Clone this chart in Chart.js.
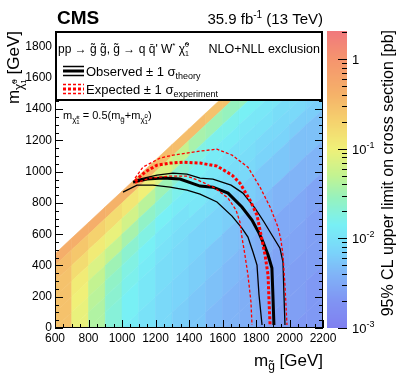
<!DOCTYPE html>
<html>
<head>
<meta charset="utf-8">
<script src="https://cdn.jsdelivr.net/npm/chart.js@4.4.0/dist/chart.umd.min.js"></script>
<style>
  html, body { margin: 0; padding: 0; background: #fff; }
</style>
</head>
<body>
<canvas id="limitChart" width="399" height="383"></canvas>
<script>
const FONT = '"Liberation Sans", Arial, Helvetica, sans-serif';

// limit map binning: gluino mass columns and mass-splitting bands (GeV)
const gluinoEdges = [600, 700, 800, 900, 1000, 1100, 1200, 1300, 1400, 1500, 1600, 1700, 1800, 1900, 2000, 2100, 2200];
const deltaEdges = [125, 200, 300, 400, 500, 600, 700, 800, 1000, 1200, 1400, 1600, 1800, 2000, 2200];

// log10 of the 95% CL upper limit [pb], rows = deltaM bands, columns = gluino bins
const limitLog10 = [
  [-0.35, -0.35, -0.35, -0.4, -0.4, -0.45, -0.5, -0.5, -0.5, -0.55, -0.55, -0.55, -0.6, -0.6, -0.6, -0.6],
  [-0.5, -0.6, -0.7, -0.8, -0.9, -1.0, -1.15, -1.3, -1.45, -1.5, -1.55, -1.55, -1.6, -1.6, -1.65, -1.65],
  [-0.55, -0.8, -0.95, -1.05, -1.2, -1.35, -1.5, -1.65, -1.75, -1.8, -1.8, -1.85, -1.85, -1.9, -1.9, -1.9],
  [-0.55, -0.95, -1.15, -1.3, -1.45, -1.6, -1.7, -1.8, -1.85, -1.9, -1.9, -1.95, -1.95, -1.95, -2.0, -2.0],
  [-0.55, -1.0, -1.3, -1.5, -1.65, -1.75, -1.85, -1.9, -1.9, -1.95, -2.0, -2.0, -2.0, -2.05, -2.05, -2.05],
  [-0.55, -1.05, -1.35, -1.6, -1.75, -1.85, -1.95, -2.0, -1.95, -2.0, -2.05, -2.05, -2.1, -2.1, -2.1, -2.15],
  [null, -1.05, -1.4, -1.65, -1.8, -1.9, -2.0, -2.05, -2.05, -2.05, -2.1, -2.1, -2.15, -2.15, -2.2, -2.2],
  [null, null, -1.4, -1.7, -1.85, -1.95, -2.05, -2.1, -2.15, -2.15, -2.2, -2.2, -2.25, -2.25, -2.3, -2.3],
  [null, null, null, null, -1.9, -2.0, -2.1, -2.15, -2.2, -2.25, -2.3, -2.35, -2.35, -2.4, -2.4, -2.4],
  [null, null, null, null, null, null, -2.1, -2.2, -2.25, -2.3, -2.35, -2.4, -2.45, -2.5, -2.5, -2.55],
  [null, null, null, null, null, null, null, null, -2.25, -2.35, -2.4, -2.45, -2.5, -2.55, -2.55, -2.6],
  [null, null, null, null, null, null, null, null, null, null, -2.4, -2.45, -2.5, -2.55, -2.6, -2.6],
  [null, null, null, null, null, null, null, null, null, null, null, null, -2.55, -2.6, -2.6, -2.65],
  [null, null, null, null, null, null, null, null, null, null, null, null, null, null, -2.65, -2.65]
];

// exclusion contours (m_gluino, m_LSP) in GeV
const obsGluino = [1066, 1149, 1245, 1346, 1466, 1543, 1633, 1716, 1776, 1818, 1842, 1872, 1895, 1901, 1907];
const obsLsp = [933, 953, 959, 953, 908, 901, 863, 774, 690, 607, 550, 467, 384, 211, 19];
const obsUpGluino = [1078, 1209, 1304, 1388, 1466, 1543, 1651, 1722, 1794, 1848, 1895, 1943, 1961, 1967, 1973];
const obsUpLsp = [946, 978, 991, 985, 959, 953, 914, 863, 767, 678, 595, 511, 422, 211, 19];
const obsDownGluino = [1006, 1090, 1185, 1287, 1388, 1466, 1567, 1657, 1716, 1752, 1782, 1806, 1818, 1836];
const obsDownLsp = [869, 914, 914, 901, 882, 857, 806, 716, 639, 582, 486, 403, 211, 19];
const expGluino = [1078, 1137, 1209, 1287, 1364, 1466, 1567, 1657, 1704, 1764, 1806, 1830, 1854, 1872, 1878, 1884];
const expLsp = [940, 997, 1042, 1055, 1061, 1055, 1036, 978, 927, 818, 722, 595, 467, 339, 166, 19];
const expUpGluino = [1078, 1125, 1227, 1304, 1466, 1567, 1657, 1752, 1824, 1884, 1931, 1949, 1961, 1973, 1985];
const expUpLsp = [959, 1029, 1087, 1106, 1132, 1144, 1106, 1029, 901, 774, 646, 563, 467, 275, 19];
const expDownGluino = [1078, 1167, 1287, 1388, 1466, 1555, 1633, 1681, 1704, 1716, 1734, 1752, 1770, 1776];
const expDownLsp = [927, 959, 972, 972, 940, 895, 831, 754, 678, 582, 467, 339, 166, 19];

const zMin = 0.001;
const zMax = 2.05;
const zDecades = [0.001, 0.01, 0.1, 1];

// pastel rainbow palette (log10 value -> rgb)
const paletteStops = [
  [-3.0, [128, 128, 240]],
  [-2.7, [128, 148, 243]],
  [-2.4, [128, 180, 247]],
  [-2.15, [122, 212, 250]],
  [-1.85, [120, 240, 245]],
  [-1.55, [150, 242, 190]],
  [-1.3, [195, 243, 145]],
  [-1.0, [240, 240, 120]],
  [-0.7, [245, 210, 110]],
  [-0.4, [245, 178, 105]],
  [0.0, [245, 148, 110]],
  [0.32, [240, 120, 125]]
];

function paletteColor(v) {
  if (v <= paletteStops[0][0]) return 'rgb(' + paletteStops[0][1].join(',') + ')';
  for (let i = 1; i < paletteStops.length; i++) {
    if (v <= paletteStops[i][0]) {
      const [v0, c0] = paletteStops[i - 1];
      const [v1, c1] = paletteStops[i];
      const f = (v - v0) / (v1 - v0);
      const c = c0.map((a, k) => Math.round(a + (c1[k] - a) * f));
      return 'rgb(' + c.join(',') + ')';
    }
  }
  return 'rgb(' + paletteStops[paletteStops.length - 1][1].join(',') + ')';
}

function toPoints(xs, ys) {
  return xs.map((x, i) => ({ x: x, y: ys[i] }));
}

// text with sub/superscripts
function partWidth(ctx, p) {
  ctx.font = (p.bold ? 'bold ' : '') + p.s + 'px ' + FONT;
  if (p.t !== undefined) return ctx.measureText(p.t).width;
  return Math.max(ctx.measureText(p.sup).width, ctx.measureText(p.sub).width);
}

function drawRich(ctx, parts, x, y, align) {
  const total = parts.reduce((w, p) => w + partWidth(ctx, p), 0);
  let cx = align === 'right' ? x - total : (align === 'center' ? x - total / 2 : x);
  ctx.textAlign = 'left';
  ctx.textBaseline = 'alphabetic';
  parts.forEach(p => {
    const w = partWidth(ctx, p);
    if (p.t !== undefined) {
      ctx.fillText(p.t, cx, y + (p.dy || 0));
    } else {
      ctx.fillText(p.sup, cx, y + p.supDy);
      ctx.fillText(p.sub, cx, y + p.subDy);
    }
    cx += w;
  });
}

const limitMap = {
  id: 'limitMap',
  beforeDatasetsDraw(chart) {
    const { ctx, chartArea, scales: { x, y } } = chart;
    ctx.save();
    ctx.beginPath();
    ctx.rect(chartArea.left, chartArea.top, chartArea.width, chartArea.height);
    ctx.clip();
    for (let b = 0; b < limitLog10.length; b++) {
      for (let g = 0; g < limitLog10[b].length; g++) {
        const v = limitLog10[b][g];
        if (v === null) continue;
        const g0 = gluinoEdges[g], g1 = gluinoEdges[g + 1];
        const d0 = deltaEdges[b], d1 = deltaEdges[b + 1];
        const col = paletteColor(v);
        ctx.fillStyle = col;
        ctx.strokeStyle = col;
        ctx.lineWidth = 0.6;
        ctx.beginPath();
        ctx.moveTo(x.getPixelForValue(g0), y.getPixelForValue(g0 - d0));
        ctx.lineTo(x.getPixelForValue(g1), y.getPixelForValue(g1 - d0));
        ctx.lineTo(x.getPixelForValue(g1), y.getPixelForValue(g1 - d1));
        ctx.lineTo(x.getPixelForValue(g0), y.getPixelForValue(g0 - d1));
        ctx.closePath();
        ctx.fill();
        ctx.stroke();
      }
    }
    ctx.restore();
  }
};

const frameAndText = {
  id: 'frameAndText',
  afterDraw(chart) {
    const { ctx, chartArea: ca, scales: { x, y } } = chart;
    ctx.save();

    // axis ticks (ROOT style, inside the frame)
    ctx.strokeStyle = '#000';
    ctx.lineWidth = 1;
    ctx.beginPath();
    for (let m = 600; m <= 2200; m += 50) {
      const px = Math.round(x.getPixelForValue(m)) + 0.5;
      const len = m % 200 === 0 ? 8 : 4;
      ctx.moveTo(px, ca.bottom);
      ctx.lineTo(px, ca.bottom - len);
    }
    for (let m = 0; m <= 1900; m += 50) {
      const py = Math.round(y.getPixelForValue(m)) + 0.5;
      const len = m % 200 === 0 ? 8 : 4;
      ctx.moveTo(ca.left, py);
      ctx.lineTo(ca.left + len, py);
      ctx.moveTo(ca.right, py);
      ctx.lineTo(ca.right - len, py);
    }
    ctx.stroke();
    ctx.strokeRect(ca.left + 0.5, ca.top + 0.5, ca.width - 1, ca.height - 1);

    // legend box
    ctx.fillStyle = '#fff';
    ctx.fillRect(ca.left, ca.top, ca.width, 69);
    ctx.lineWidth = 2;
    ctx.strokeStyle = '#000';
    ctx.strokeRect(ca.left + 1, ca.top + 1, ca.width - 2, 68);

    ctx.fillStyle = '#000';
    drawRich(ctx, [
      { t: 'pp \u2192 g\u0303 g\u0303, g\u0303 \u2192 q q\u0304\' W', s: 12 },
      { t: '*', s: 8, dy: -5 },
      { t: ' \u03c7\u0303', s: 12 },
      { sup: '0', sub: '1', s: 7, supDy: -6, subDy: 3 }
    ], 58, 53, 'left');
    drawRich(ctx, [{ t: 'NLO+NLL exclusion', s: 12.5 }], 320, 53, 'right');

    // observed sample lines
    ctx.setLineDash([]);
    ctx.strokeStyle = '#000';
    ctx.lineWidth = 3;
    ctx.beginPath(); ctx.moveTo(63, 71); ctx.lineTo(84, 71); ctx.stroke();
    ctx.lineWidth = 1.3;
    ctx.beginPath(); ctx.moveTo(63, 66.5); ctx.lineTo(84, 66.5); ctx.moveTo(63, 75.5); ctx.lineTo(84, 75.5); ctx.stroke();
    // expected sample lines
    ctx.strokeStyle = '#ff0000';
    ctx.lineWidth = 3;
    ctx.setLineDash([3, 2]);
    ctx.beginPath(); ctx.moveTo(63, 89); ctx.lineTo(84, 89); ctx.stroke();
    ctx.lineWidth = 1.3;
    ctx.beginPath(); ctx.moveTo(63, 84.5); ctx.lineTo(84, 84.5); ctx.moveTo(63, 93.5); ctx.lineTo(84, 93.5); ctx.stroke();
    ctx.setLineDash([]);

    ctx.fillStyle = '#000';
    drawRich(ctx, [{ t: 'Observed \u00b1 1 \u03c3', s: 13 }, { t: 'theory', s: 9, dy: 3 }], 86, 76, 'left');
    drawRich(ctx, [{ t: 'Expected \u00b1 1 \u03c3', s: 13 }, { t: 'experiment', s: 9, dy: 3 }], 86, 94, 'left');

    // chargino mass note
    drawRich(ctx, [
      { t: 'm', s: 11 },
      { t: '\u03c7\u0303', s: 8, dy: 3 },
      { sup: '\u00b1', sub: '1', s: 6, supDy: 0, subDy: 5 },
      { t: ' = 0.5(m', s: 11 },
      { t: 'g\u0303', s: 8, dy: 3 },
      { t: '+m', s: 11 },
      { t: '\u03c7\u0303', s: 8, dy: 3 },
      { sup: '0', sub: '1', s: 6, supDy: -1, subDy: 5 },
      { t: ')', s: 11 }
    ], 63, 119, 'left');

    // header
    drawRich(ctx, [{ t: 'CMS', s: 19, bold: true }], 57, 24, 'left');
    drawRich(ctx, [{ t: '35.9 fb', s: 15 }, { t: '-1', s: 10, dy: -6 }, { t: ' (13 TeV)', s: 15 }], 323, 24, 'right');

    // axis titles
    drawRich(ctx, [{ t: 'm', s: 17 }, { t: 'g\u0303', s: 12, dy: 4 }, { t: ' [GeV]', s: 17 }], 323, 366, 'right');
    ctx.save();
    ctx.translate(19, 31);
    ctx.rotate(-Math.PI / 2);
    drawRich(ctx, [
      { t: 'm', s: 17 },
      { t: '\u03c7\u0303', s: 12, dy: 4 },
      { sup: '0', sub: '1', s: 8, supDy: -2, subDy: 7 },
      { t: ' [GeV]', s: 17 }
    ], 0, 0, 'right');
    ctx.restore();

    // colour bar
    const barL = 327, barR = 347, barT = ca.top, barB = ca.bottom;
    const lMin = Math.log10(zMin), lMax = Math.log10(zMax);
    const zPix = v => barB - (Math.log10(v) - lMin) / (lMax - lMin) * (barB - barT);
    for (let py = barT; py < barB; py++) {
      const lv = lMin + (barB - (py + 0.5)) / (barB - barT) * (lMax - lMin);
      ctx.fillStyle = paletteColor(lv);
      ctx.fillRect(barL, py, barR - barL, 1);
    }
    ctx.strokeStyle = '#000';
    ctx.lineWidth = 1;
    ctx.beginPath();
    zDecades.forEach(d => {
      for (let k = 1; k <= 9; k++) {
        const v = d * k;
        if (v > zMax) break;
        const py = Math.round(zPix(v)) + 0.5;
        ctx.moveTo(barR, py);
        ctx.lineTo(barR - (k === 1 ? 9 : 5), py);
      }
    });
    ctx.stroke();
    ctx.fillStyle = '#000';
    zDecades.forEach(d => {
      const py = zPix(d) + 5;
      if (d === 1) {
        drawRich(ctx, [{ t: '1', s: 13 }], 352, py, 'left');
      } else {
        drawRich(ctx, [{ t: '10', s: 13 }, { t: String(Math.round(Math.log10(d))), s: 9, dy: -6 }], 352, py, 'left');
      }
    });
    ctx.save();
    ctx.translate(393, 30);
    ctx.rotate(-Math.PI / 2);
    drawRich(ctx, [{ t: '95% CL upper limit on cross section [pb]', s: 16 }], 0, 0, 'right');
    ctx.restore();

    ctx.restore();
  }
};

function contour(data, color, width, dash) {
  return {
    data: data,
    showLine: true,
    borderColor: color,
    borderWidth: width,
    borderDash: dash,
    pointRadius: 0,
    tension: 0,
    fill: false
  };
}

new Chart(document.getElementById('limitChart').getContext('2d'), {
  type: 'scatter',
  data: {
    datasets: [
      contour(toPoints(expUpGluino, expUpLsp), '#ff0000', 1.3, [3, 2]),
      contour(toPoints(expDownGluino, expDownLsp), '#ff0000', 1.3, [3, 2]),
      contour(toPoints(expGluino, expLsp), '#ff0000', 3, [3, 2]),
      contour(toPoints(obsUpGluino, obsUpLsp), '#000000', 1.3, []),
      contour(toPoints(obsDownGluino, obsDownLsp), '#000000', 1.3, []),
      contour(toPoints(obsGluino, obsLsp), '#000000', 3, [])
    ]
  },
  options: {
    responsive: false,
    animation: false,
    devicePixelRatio: 1,
    events: [],
    layout: { padding: { left: 0, right: 76, top: 31, bottom: 0 } },
    plugins: { legend: { display: false }, tooltip: { enabled: false } },
    scales: {
      x: {
        type: 'linear',
        min: 600,
        max: 2200,
        grid: { display: false, drawTicks: false },
        border: { display: false },
        ticks: {
          stepSize: 200, padding: 3, maxRotation: 0, autoSkip: false, color: '#000',
          font: { family: FONT, size: 12 },
          callback: v => String(v)
        },
        afterFit: s => { s.height = 55; }
      },
      y: {
        type: 'linear',
        min: 0,
        max: 1900,
        grid: { display: false, drawTicks: false },
        border: { display: false },
        ticks: {
          stepSize: 200, includeBounds: false, padding: 3, autoSkip: false, color: '#000',
          font: { family: FONT, size: 12 },
          callback: v => String(v)
        },
        afterFit: s => { s.width = 55; }
      }
    }
  },
  plugins: [limitMap, frameAndText]
});
</script>
</body>
</html>
